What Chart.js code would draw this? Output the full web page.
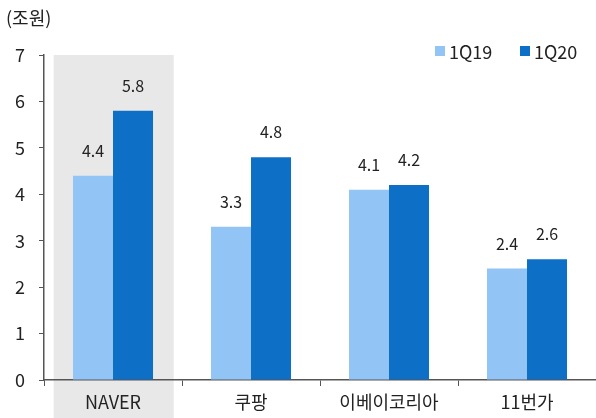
<!DOCTYPE html>
<html>
<head>
<meta charset="utf-8">
<script src="https://cdn.jsdelivr.net/npm/chart.js@4"></script>
<style>
  html, body { margin: 0; padding: 0; background: #fff; }
  #wrap { width: 596px; height: 418px; }
</style>
</head>
<body>
<div id="wrap"><canvas id="chart" width="596" height="418"></canvas></div>
<script>
// ===== 온라인 쇼핑 거래액 비교 (조원) =====
const categories = ["NAVER", "쿠팡", "이베이코리아", "11번가"];
const series1Q19 = [4.4, 3.3, 4.1, 2.4];
const series1Q20 = [5.8, 4.8, 4.2, 2.6];
const yTicks = [0, 1, 2, 3, 4, 5, 6, 7];
const highlightIndex = 0; // 회색 배경 강조

const FONT = "'Noto Sans CJK KR', 'Noto Sans', sans-serif";
const TEXT = "#222";
const AXIS = "#555";
const LIGHT = "#92C5F5";
const DARK = "#0E6FC7";

// 강조 카테고리 회색 배경
const highlightBg = {
  id: "highlightBg",
  beforeDraw(chart) {
    const x = chart.scales.x;
    const { ctx, chartArea } = chart;
    const cw = (x.right - x.left) / categories.length;
    const cx = x.getPixelForValue(highlightIndex);
    ctx.save();
    ctx.fillStyle = "#E8E8E8";
    ctx.fillRect(cx - cw * 0.43, chartArea.top, cw * 0.87, chart.height - chartArea.top);
    ctx.restore();
  }
};

// 막대 위 값 표시 + 단위 + 범례
const labelsAndLegend = {
  id: "labelsAndLegend",
  afterDatasetsDraw(chart) {
    const { ctx } = chart;
    ctx.save();
    ctx.font = "16px " + FONT;
    ctx.fillStyle = TEXT;
    ctx.textAlign = "center";
    ctx.textBaseline = "middle";
    chart.data.datasets.forEach((ds, di) => {
      chart.getDatasetMeta(di).data.forEach((bar, i) => {
        ctx.fillText(ds.data[i].toFixed(1), bar.x, bar.y - 25);
      });
    });

    // 단위
    ctx.textAlign = "left";
    ctx.font = "18px " + FONT;
    ctx.fillText("(조원)", 6, 18);

    // 범례
    const items = [
      { text: "1Q19", color: LIGHT, x: 435 },
      { text: "1Q20", color: DARK, x: 520 }
    ];
    ctx.font = "18px " + FONT;
    items.forEach(it => {
      ctx.fillStyle = it.color;
      ctx.fillRect(it.x, 46, 10, 10);
      ctx.fillStyle = TEXT;
      ctx.fillText(it.text, it.x + 14, 52);
    });
    ctx.restore();
  }
};

new Chart(document.getElementById("chart"), {
  type: "bar",
  data: {
    labels: categories,
    datasets: [
      { label: "1Q19", data: series1Q19, backgroundColor: LIGHT },
      { label: "1Q20", data: series1Q20, backgroundColor: DARK }
    ]
  },
  options: {
    responsive: false,
    animation: false,
    layout: { padding: { top: 55, right: 0, left: 0, bottom: 0 } },
    datasets: { bar: { categoryPercentage: 0.58, barPercentage: 1.0 } },
    scales: {
      x: {
        grid: { display: true, drawOnChartArea: false, drawTicks: true, tickLength: 6, color: AXIS, offset: true },
        border: { display: true, color: AXIS, width: 1.5 },
        ticks: { color: TEXT, font: { family: FONT, size: 18 }, padding: 5 },
        afterFit(s) { s.height = 38; }
      },
      y: {
        min: 0,
        max: 7,
        afterBuildTicks(s) { s.ticks = yTicks.map(v => ({ value: v })); },
        grid: { display: true, drawOnChartArea: false, drawTicks: true, tickLength: 5, color: AXIS },
        border: { display: true, color: AXIS, width: 1.5 },
        ticks: { color: TEXT, font: { family: FONT, size: 18 }, padding: 14 },
        afterFit(s) { s.width = 44; }
      }
    },
    plugins: {
      legend: { display: false },
      tooltip: { enabled: false }
    }
  },
  plugins: [highlightBg, labelsAndLegend]
});
</script>
</body>
</html>
